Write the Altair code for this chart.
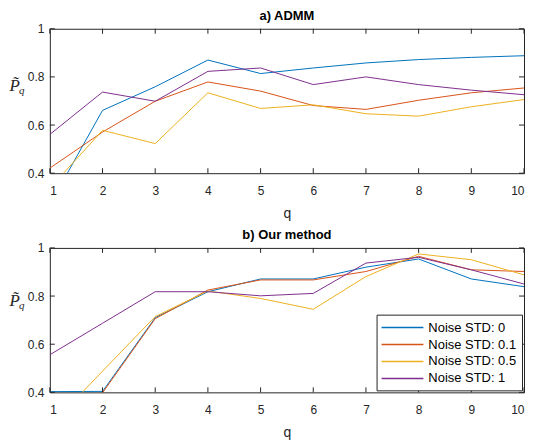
import altair as alt
import pandas as pd

# ---------------- data ----------------
q = list(range(1, 11))
series_names = ["Noise STD: 0", "Noise STD: 0.1", "Noise STD: 0.5", "Noise STD: 1"]
colors = ["#0072BD", "#D95319", "#EDB120", "#7E2F8E"]

# a) ADMM
admm_0 = [0.27, 0.661, 0.759, 0.870, 0.814, 0.837, 0.858, 0.872, 0.881, 0.888]
admm_01 = [0.421, 0.571, 0.699, 0.779, 0.741, 0.681, 0.665, 0.703, 0.734, 0.754]
admm_05 = [0.338, 0.578, 0.523, 0.734, 0.669, 0.684, 0.647, 0.637, 0.676, 0.706]
admm_1 = [0.561, 0.737, 0.699, 0.823, 0.837, 0.768, 0.800, 0.768, 0.745, 0.726]

# b) Our method
ours_0 = [0.403, 0.404, 0.710, 0.818, 0.871, 0.871, 0.920, 0.954, 0.871, 0.839]
ours_01 = [0.38, 0.398, 0.706, 0.825, 0.867, 0.867, 0.902, 0.965, 0.909, 0.902]
ours_05 = [0.26, 0.488, 0.715, 0.821, 0.790, 0.745, 0.881, 0.975, 0.951, 0.888]
ours_1 = [0.556, 0.687, 0.818, 0.818, 0.801, 0.811, 0.937, 0.961, 0.909, 0.850]

x_ticks = q
y_ticks = [0.4, 0.6, 0.8, 1.0]


def to_long(vals_list):
    rows = []
    for name, vals in zip(series_names, vals_list):
        for qq, v in zip(q, vals):
            rows.append({"q": qq, "P": v, "series": name})
    return pd.DataFrame(rows)


W, H = 476, 145
AX = "#262626"
FONT = "Liberation Sans"
TL = 5  # inward tick length


def panel(df, title, show_legend, title_y):
    x = alt.X(
        "q:Q",
        scale=alt.Scale(domain=[1, 10], nice=False, zero=False),
        axis=alt.Axis(
            values=x_ticks, title="q", ticks=False, tickSize=0, domain=False, grid=False,
            labelPadding=12, titlePadding=10, labelFontSize=12, titleFontSize=14,
            labelColor=AX, titleColor=AX, titleFontWeight="normal",
            labelFont=FONT, titleFont=FONT,
        ),
    )
    y = alt.Y(
        "P:Q",
        scale=alt.Scale(domain=[0.4, 1.0], nice=False, zero=False),
        axis=alt.Axis(
            values=y_ticks, title="P̃", titleAngle=0, titleX=-41, titleY=title_y,
            titleAlign="left", titleBaseline="alphabetic", titleFont="Liberation Serif",
            titleFontStyle="italic", titleFontSize=17, titleFontWeight="normal",
            titleColor=AX,
            labelExpr="datum.value == 1 ? '1' : format(datum.value, '.1f')",
            ticks=False, tickSize=0, domain=False, grid=False, labelPadding=6,
            labelFontSize=12, labelColor=AX, labelFont=FONT,
        ),
    )
    if show_legend:
        leg = alt.Legend(
            title=None, orient="bottom-right", offset=2, fillColor="white",
            strokeColor=AX, padding=5, symbolType="M-1.14,0L4.86,0", symbolSize=196,
            symbolStrokeWidth=1.5, labelFontSize=13, labelColor="#000",
            labelFont=FONT, rowPadding=2, labelOffset=31,
        )
    else:
        leg = None
    lines = alt.Chart(df).mark_line(strokeWidth=1, clip=True).encode(
        x=x, y=y,
        color=alt.Color("series:N", scale=alt.Scale(domain=series_names, range=colors), legend=leg),
    )
    xt = pd.DataFrame({"q": x_ticks})
    yt = pd.DataFrame({"P": y_ticks})
    tick_style = dict(color=AX, strokeWidth=1)
    xb = alt.Chart(xt).mark_rule(**tick_style).encode(
        x=alt.X("q:Q"), y=alt.value(H), y2=alt.value(H - TL))
    xtop = alt.Chart(xt).mark_rule(**tick_style).encode(
        x=alt.X("q:Q"), y=alt.value(0), y2=alt.value(TL))
    yl = alt.Chart(yt).mark_rule(**tick_style).encode(
        y=alt.Y("P:Q"), x=alt.value(0), x2=alt.value(TL))
    yr = alt.Chart(yt).mark_rule(**tick_style).encode(
        y=alt.Y("P:Q"), x=alt.value(W), x2=alt.value(W - TL))
    sub = alt.Chart(alt.Data(values=[{"s": "q"}])).mark_text(
        font="Liberation Serif", fontStyle="italic", fontSize=11, align="left",
        baseline="alphabetic", color=AX,
    ).encode(text="s:N", x=alt.value(-31), y=alt.value(title_y + 3))
    return alt.layer(lines, xb, xtop, yl, yr, sub).properties(
        width=W, height=H,
        title=alt.TitleParams(
            title, fontSize=13, fontWeight="bold", font=FONT, color="#000",
            offset=0, anchor="middle", frame="group",
        ),
    )


top = panel(to_long([admm_0, admm_01, admm_05, admm_1]), "a) ADMM", False, 62)
bottom = panel(to_long([ours_0, ours_01, ours_05, ours_1]), "b) Our method", True, 58)

chart = alt.vconcat(top, bottom, spacing=7).resolve_legend(color="independent").properties(
    padding={"left": 0, "top": 0, "right": 0, "bottom": 0}
).configure_view(stroke=AX, strokeWidth=1)

chart.save("out.html", embed_options={"renderer": "svg", "actions": False})
